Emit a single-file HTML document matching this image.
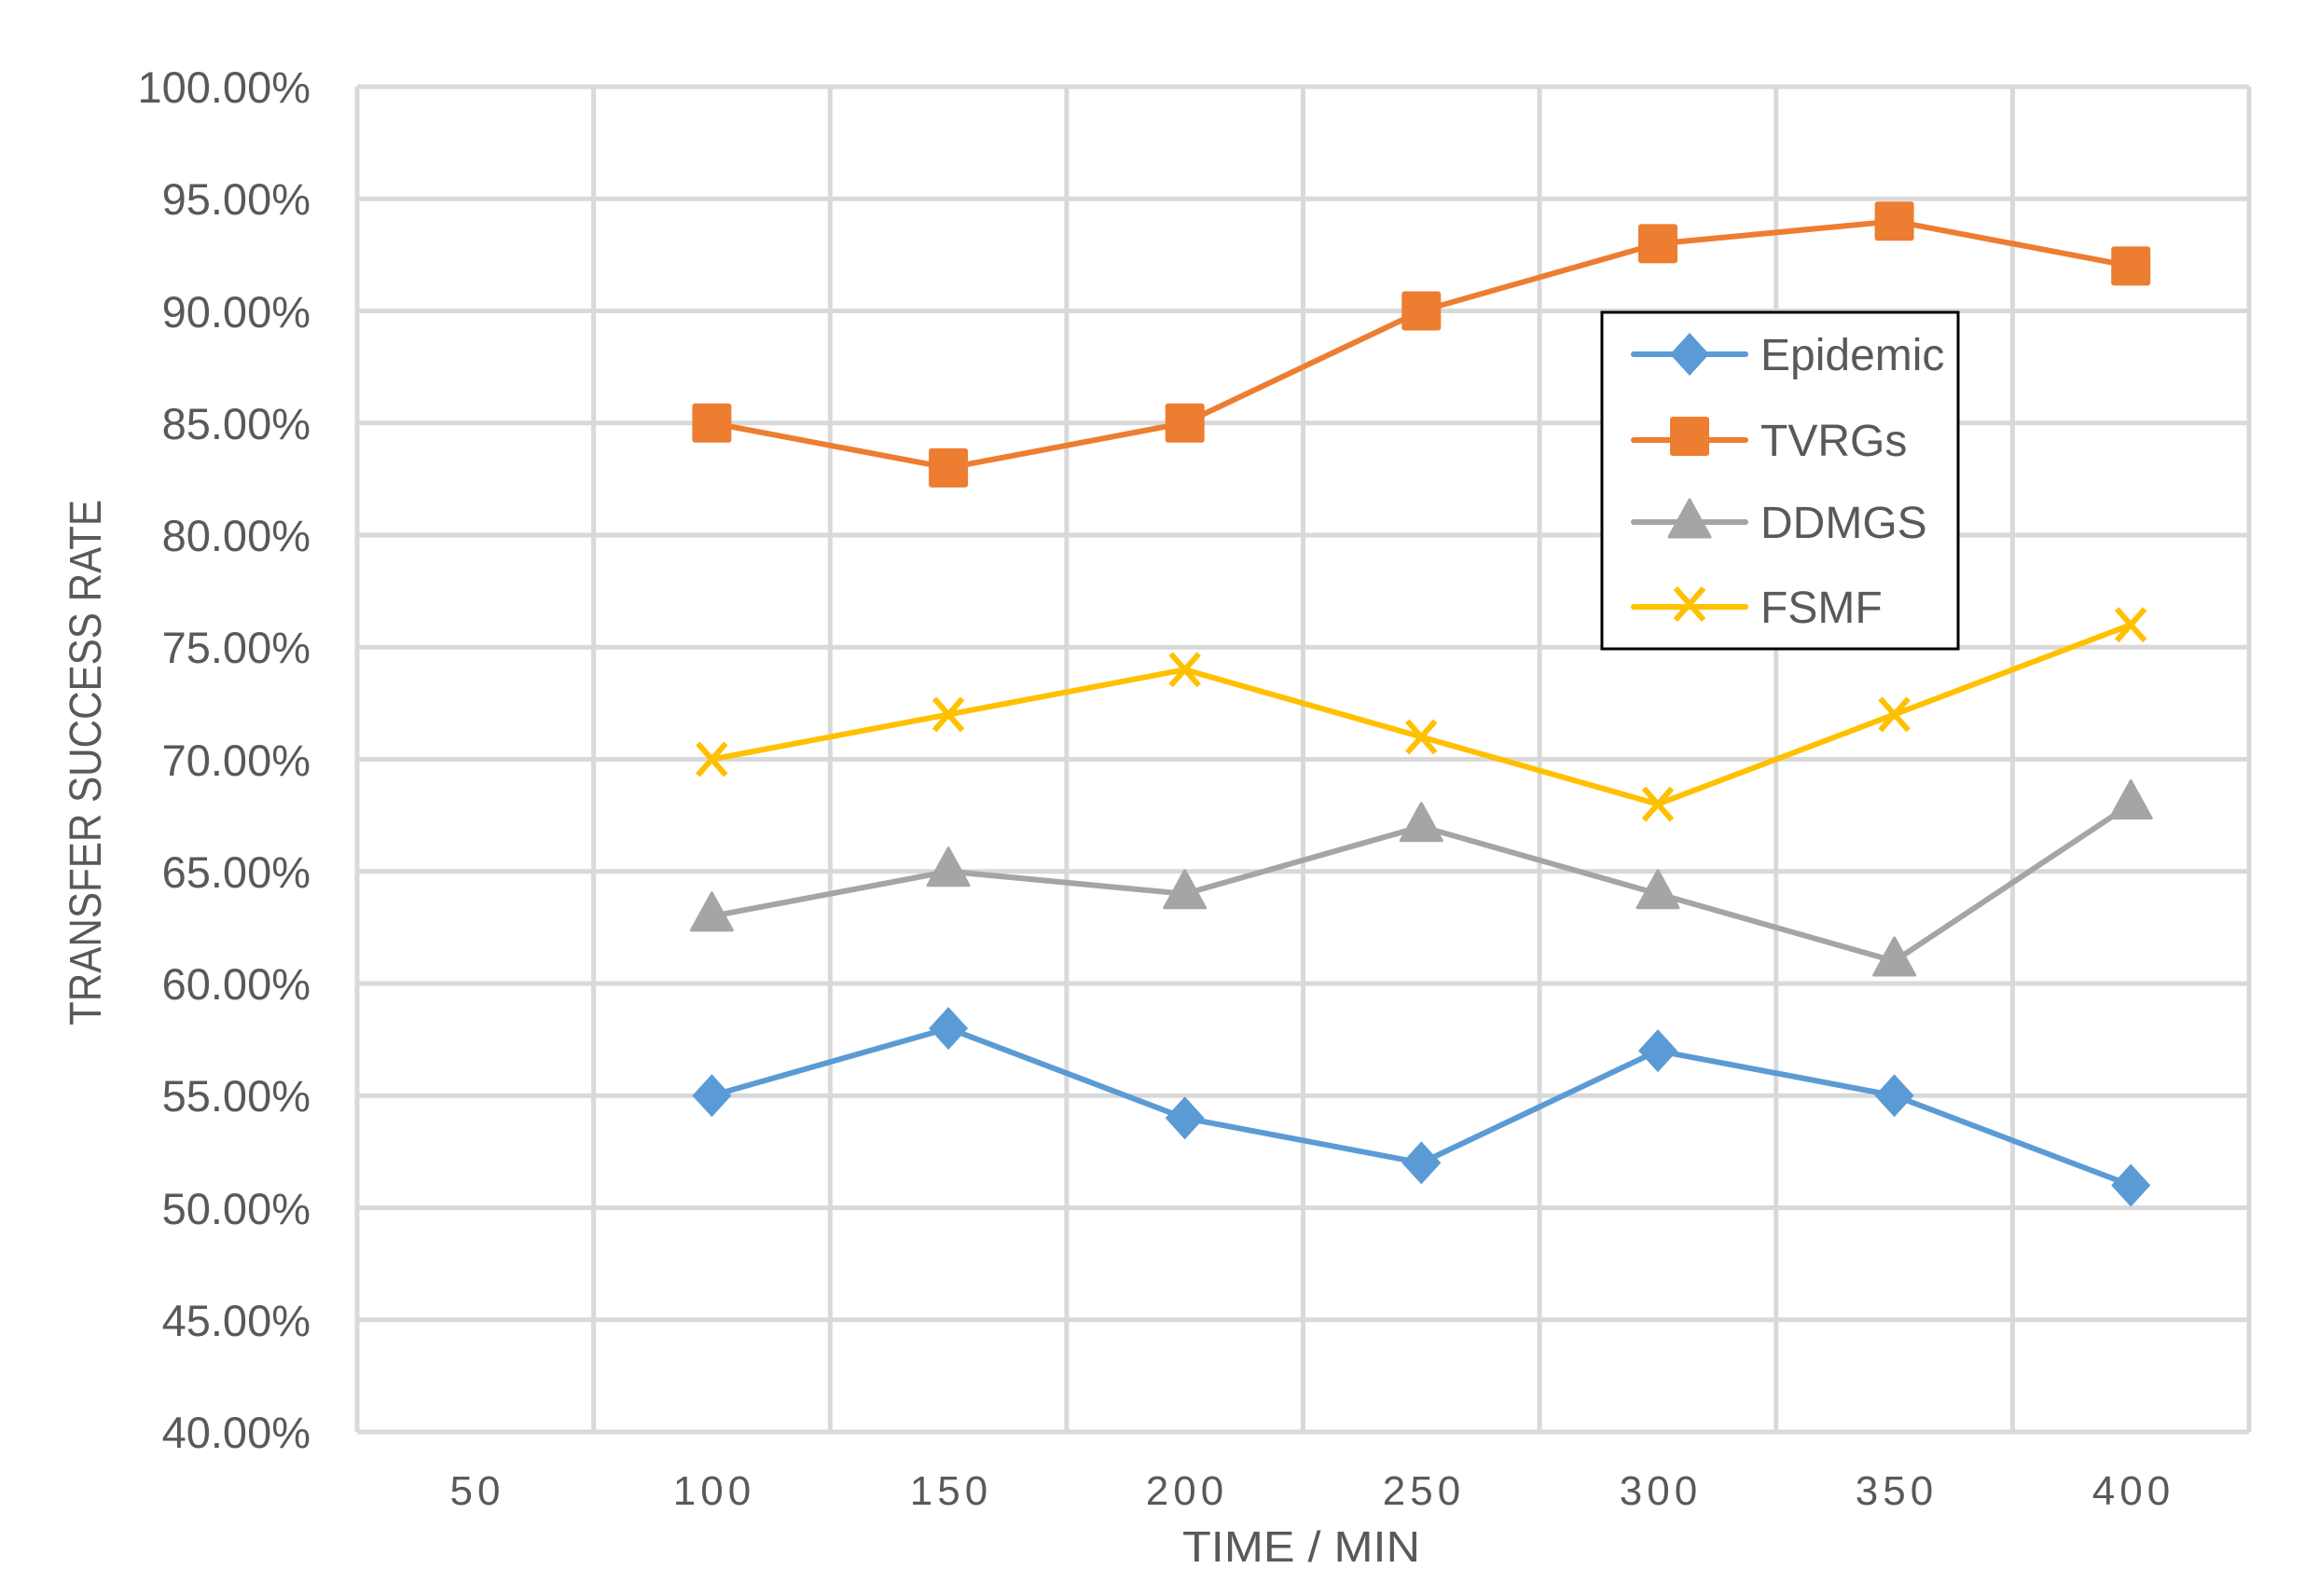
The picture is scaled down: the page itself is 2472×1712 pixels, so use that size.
<!DOCTYPE html>
<html><head><meta charset="utf-8"><style>
html,body{margin:0;padding:0;background:#fff;}
svg{display:block;}
text{font-family:"Liberation Sans",sans-serif;fill:#595959;}
</style></head><body>
<svg width="2472" height="1712" viewBox="0 0 2472 1712" xmlns="http://www.w3.org/2000/svg">
<defs>
<path id="dia" d="M0,-23 L21,0 L0,23 L-21,0 Z" fill="#5b9bd5"/>
<rect id="sq" x="-21" y="-21" width="42" height="42" rx="3" fill="#ed7d31"/>
<path id="tri" d="M0,-25 L22,15 L-22,15 Z" fill="#a5a5a5" stroke="#a5a5a5" stroke-width="3" stroke-linejoin="round"/>
<path id="xm" d="M-15,-17 L15,17 M15,-17 L-15,17" stroke="#ffc000" stroke-width="6" fill="none"/>
</defs>
<g stroke="#d9d9d9" stroke-width="5" fill="none">
<path d="M383,93H2412M383,213.25H2412M383,333.5H2412M383,453.75H2412M383,574H2412M383,694.25H2412M383,814.5H2412M383,934.75H2412M383,1055H2412M383,1175.25H2412M383,1295.5H2412M383,1415.75H2412M383,1536H2412"/>
<path d="M383,93V1536M636.6,93V1536M890.3,93V1536M1143.9,93V1536M1397.5,93V1536M1651.1,93V1536M1904.8,93V1536M2158.4,93V1536M2412,93V1536"/>
</g>
<g font-size="47" text-anchor="end">
<text x="333" y="110">100.00%</text>
<text x="333" y="230">95.00%</text>
<text x="333" y="351">90.00%</text>
<text x="333" y="471">85.00%</text>
<text x="333" y="591">80.00%</text>
<text x="333" y="711">75.00%</text>
<text x="333" y="832">70.00%</text>
<text x="333" y="952">65.00%</text>
<text x="333" y="1072">60.00%</text>
<text x="333" y="1192">55.00%</text>
<text x="333" y="1313">50.00%</text>
<text x="333" y="1433">45.00%</text>
<text x="333" y="1553">40.00%</text>
</g>
<g font-size="44" text-anchor="middle" letter-spacing="5">
<text x="512" y="1614">50</text>
<text x="766" y="1614">100</text>
<text x="1020" y="1614">150</text>
<text x="1273" y="1614">200</text>
<text x="1527" y="1614">250</text>
<text x="1781" y="1614">300</text>
<text x="2034" y="1614">350</text>
<text x="2288" y="1614">400</text>
</g>
<text x="1268" y="1675" font-size="46" textLength="255" lengthAdjust="spacingAndGlyphs">TIME / MIN</text>
<text transform="translate(108,1100) rotate(-90)" font-size="48" textLength="564" lengthAdjust="spacingAndGlyphs">TRANSFER SUCCESS RATE</text>
<g fill="none" stroke-width="6" stroke-linejoin="round">
<polyline stroke="#5b9bd5" points="763.4,1175.25 1017.1,1103.1 1270.7,1199.3 1524.3,1247.4 1778,1127.15 2031.6,1175.25 2285.2,1271.45"/>
<polyline stroke="#ed7d31" points="763.4,453.75 1017.1,501.85 1270.7,453.75 1524.3,333.5 1778,261.35 2031.6,237.3 2285.2,285.4"/>
<polyline stroke="#a5a5a5" points="763.4,982.85 1017.1,934.75 1270.7,958.8 1524.3,886.65 1778,958.8 2031.6,1030.95 2285.2,862.6"/>
<polyline stroke="#ffc000" points="763.4,814.5 1017.1,766.4 1270.7,718.3 1524.3,790.45 1778,862.6 2031.6,766.4 2285.2,670.2"/>
</g>
<use href="#dia" x="763.4" y="1175.25"/><use href="#dia" x="1017.1" y="1103.1"/><use href="#dia" x="1270.7" y="1199.3"/><use href="#dia" x="1524.3" y="1247.4"/><use href="#dia" x="1778" y="1127.15"/><use href="#dia" x="2031.6" y="1175.25"/><use href="#dia" x="2285.2" y="1271.45"/>
<use href="#sq" x="763.4" y="453.75"/><use href="#sq" x="1017.1" y="501.85"/><use href="#sq" x="1270.7" y="453.75"/><use href="#sq" x="1524.3" y="333.5"/><use href="#sq" x="1778" y="261.35"/><use href="#sq" x="2031.6" y="237.3"/><use href="#sq" x="2285.2" y="285.4"/>
<use href="#tri" x="763.4" y="982.85"/><use href="#tri" x="1017.1" y="934.75"/><use href="#tri" x="1270.7" y="958.8"/><use href="#tri" x="1524.3" y="886.65"/><use href="#tri" x="1778" y="958.8"/><use href="#tri" x="2031.6" y="1030.95"/><use href="#tri" x="2285.2" y="862.6"/>
<use href="#xm" x="763.4" y="814.5"/><use href="#xm" x="1017.1" y="766.4"/><use href="#xm" x="1270.7" y="718.3"/><use href="#xm" x="1524.3" y="790.45"/><use href="#xm" x="1778" y="862.6"/><use href="#xm" x="2031.6" y="766.4"/><use href="#xm" x="2285.2" y="670.2"/>
<rect x="1718" y="335" width="382" height="361" fill="#fff" stroke="#000" stroke-width="3"/>
<g stroke-width="6" stroke-linecap="round">
<line x1="1752" y1="380" x2="1872" y2="380" stroke="#5b9bd5"/>
<line x1="1752" y1="472" x2="1872" y2="472" stroke="#ed7d31"/>
<line x1="1752" y1="560" x2="1872" y2="560" stroke="#a5a5a5"/>
<line x1="1752" y1="651" x2="1872" y2="651" stroke="#ffc000"/>
</g>
<use href="#dia" x="1812" y="380"/><use href="#sq" x="1812" y="468"/><use href="#tri" x="1812" y="561"/><use href="#xm" x="1812" y="648"/>
<g font-size="48">
<text x="1888" y="397">Epidemic</text>
<text x="1888" y="489">TVRGs</text>
<text x="1888" y="577">DDMGS</text>
<text x="1888" y="668">FSMF</text>
</g>
</svg>
</body></html>
